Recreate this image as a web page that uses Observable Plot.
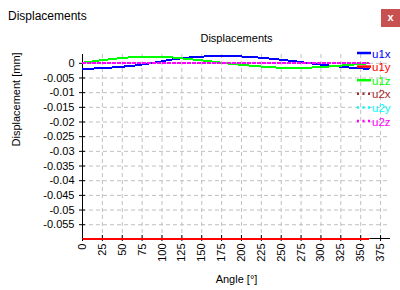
<!DOCTYPE html>
<html><head><meta charset="utf-8">
<script src="https://cdn.jsdelivr.net/npm/d3@7"></script>
<script src="https://cdn.jsdelivr.net/npm/@observablehq/plot@0.6"></script>
<style>
body{margin:0;background:#fff;}
#wrap{position:relative;width:400px;height:290px;overflow:hidden;font-family:"Liberation Sans",Arial,sans-serif;background:#fff;}
#wtitle{position:absolute;left:8px;top:10px;font-size:12px;line-height:12px;color:#000;}
#close{position:absolute;left:381px;top:9px;width:19px;height:18px;background:#c75050;color:#fff;font-size:11px;font-weight:bold;text-align:center;line-height:17px;}
#chart{position:absolute;left:0;top:0;}
#legend{position:absolute;left:0;top:0;}
</style>
</head><body>
<div id="wrap">
  <div id="chart"></div>
  <div id="wtitle">Displacements</div>
  <div id="close">x</div>
  <svg id="legend" width="400" height="290"></svg>
</div>
<script>
const chartTitle = "Displacements";
const xLabel = "Angle [°]";
const yLabel = "Displacement [mm]";
const angles = [0,22.5,45,67.5,90,112.5,135,157.5,180,202.5,225,247.5,270,292.5,315,337.5,360];
const u1x = [-0.0019,-0.0017,-0.0013,-0.0007,0.0002,0.0013,0.0020,0.0024,0.0025,0.0023,0.0019,0.0013,0.0006,-0.0002,-0.0009,-0.0015,-0.0019];
const u1y = [-0.0597,-0.0597,-0.0597,-0.0597,-0.0597,-0.0597,-0.0597,-0.0597,-0.0597,-0.0597,-0.0597,-0.0597,-0.0597,-0.0597,-0.0597,-0.0597,-0.0597];
const u1z = [0.0002,0.0010,0.0017,0.0022,0.0023,0.0020,0.0014,0.0008,0.0000,-0.0006,-0.0011,-0.0015,-0.0016,-0.0014,-0.0010,-0.0005,0.0000];
const u2x = [0,0,0,0,0,0,0,0,0,0,0,0,0,0,0,0,0];
const u2y = [0,0,0,0,0,0,0,0,0,0,0,0,0,0,0,0,0];
const u2z = [0,0,0,0,0,0,0,0,0,0,0,0,0,0,0,0,0];
const seriesNames = ["u1x","u1y","u1z","u2x","u2y","u2z"];
const seriesValues = [u1x,u1y,u1z,u2x,u2y,u2z];
const seriesColors = ["#0000ff","#ff0000","#00ff00","#a52a2a","#00ffff","#ff00ff"];
const seriesDotted = [false,false,false,true,true,true];
const xTicks = [0,25,50,75,100,125,150,175,200,225,250,275,300,325,350,375];
const yTicks = [0,-0.005,-0.01,-0.015,-0.02,-0.025,-0.03,-0.035,-0.04,-0.045,-0.05,-0.055];
const xDomain = [0, 387.5];
const yDomain = [-0.0597, 0.003];

const font = "'Liberation Sans', Arial, sans-serif";
const lineMarks = seriesNames.map((name, i) => {
  const rows = angles.map((a, j) => ({angle: a, value: seriesValues[i][j], series: name}));
  return Plot.line(rows, {x: "angle", y: "value", stroke: seriesColors[i], strokeWidth: 2,
    strokeDasharray: seriesDotted[i] ? "3,2" : null, shapeRendering: "crispEdges"});
});

const plot = Plot.plot({
  width: 400, height: 290,
  marginTop: 54, marginBottom: 52, marginLeft: 82, marginRight: 10,
  style: {fontFamily: font, fontSize: "11px", background: "transparent", color: "#000"},
  x: {domain: xDomain},
  y: {domain: yDomain},
  marks: [
    Plot.gridX(xTicks, {stroke: "#c0c0c0", strokeOpacity: 1, strokeDasharray: "4,3"}),
    Plot.gridY(yTicks, {stroke: "#c0c0c0", strokeOpacity: 1, strokeDasharray: "4,3"}),
    Plot.ruleX([xDomain[0]], {stroke: "#000"}),
    Plot.ruleY([yDomain[0]], {stroke: "#000"}),
    Plot.axisX({ticks: xTicks, tickSize: 6, dy: -3, tickPadding: 2, tickRotate: -90,
      tickFormat: d => String(d), label: null}),
    Plot.axisY({ticks: yTicks, tickSize: 6, dx: 3, tickPadding: 5,
      tickFormat: d => String(+d.toFixed(3)), label: null}),
    ...lineMarks,
    Plot.text([chartTitle], {frameAnchor: "top", dy: -16, lineAnchor: "middle", fontSize: 11}),
    Plot.text([xLabel], {frameAnchor: "bottom", dy: 41, lineAnchor: "middle", fontSize: 11}),
    Plot.text([yLabel], {frameAnchor: "left", dx: -66, rotate: -90, lineAnchor: "middle", fontSize: 11})
  ]
});
document.getElementById("chart").appendChild(plot);

const leg = d3.select("#legend");
seriesNames.forEach((name, i) => {
  const y = 53 + i * 13.6;
  leg.append("line").attr("x1", 357).attr("x2", 371).attr("y1", y).attr("y2", y)
    .attr("stroke", seriesColors[i]).attr("stroke-width", 2.5)
    .attr("stroke-dasharray", seriesDotted[i] ? "2,3.5" : null);
  leg.append("text").attr("x", 372).attr("y", y + 1.5).attr("dominant-baseline", "middle")
    .attr("fill", seriesColors[i]).attr("font-family", font).attr("font-size", "11.5px").text(name);
});
</script>
</body></html>
